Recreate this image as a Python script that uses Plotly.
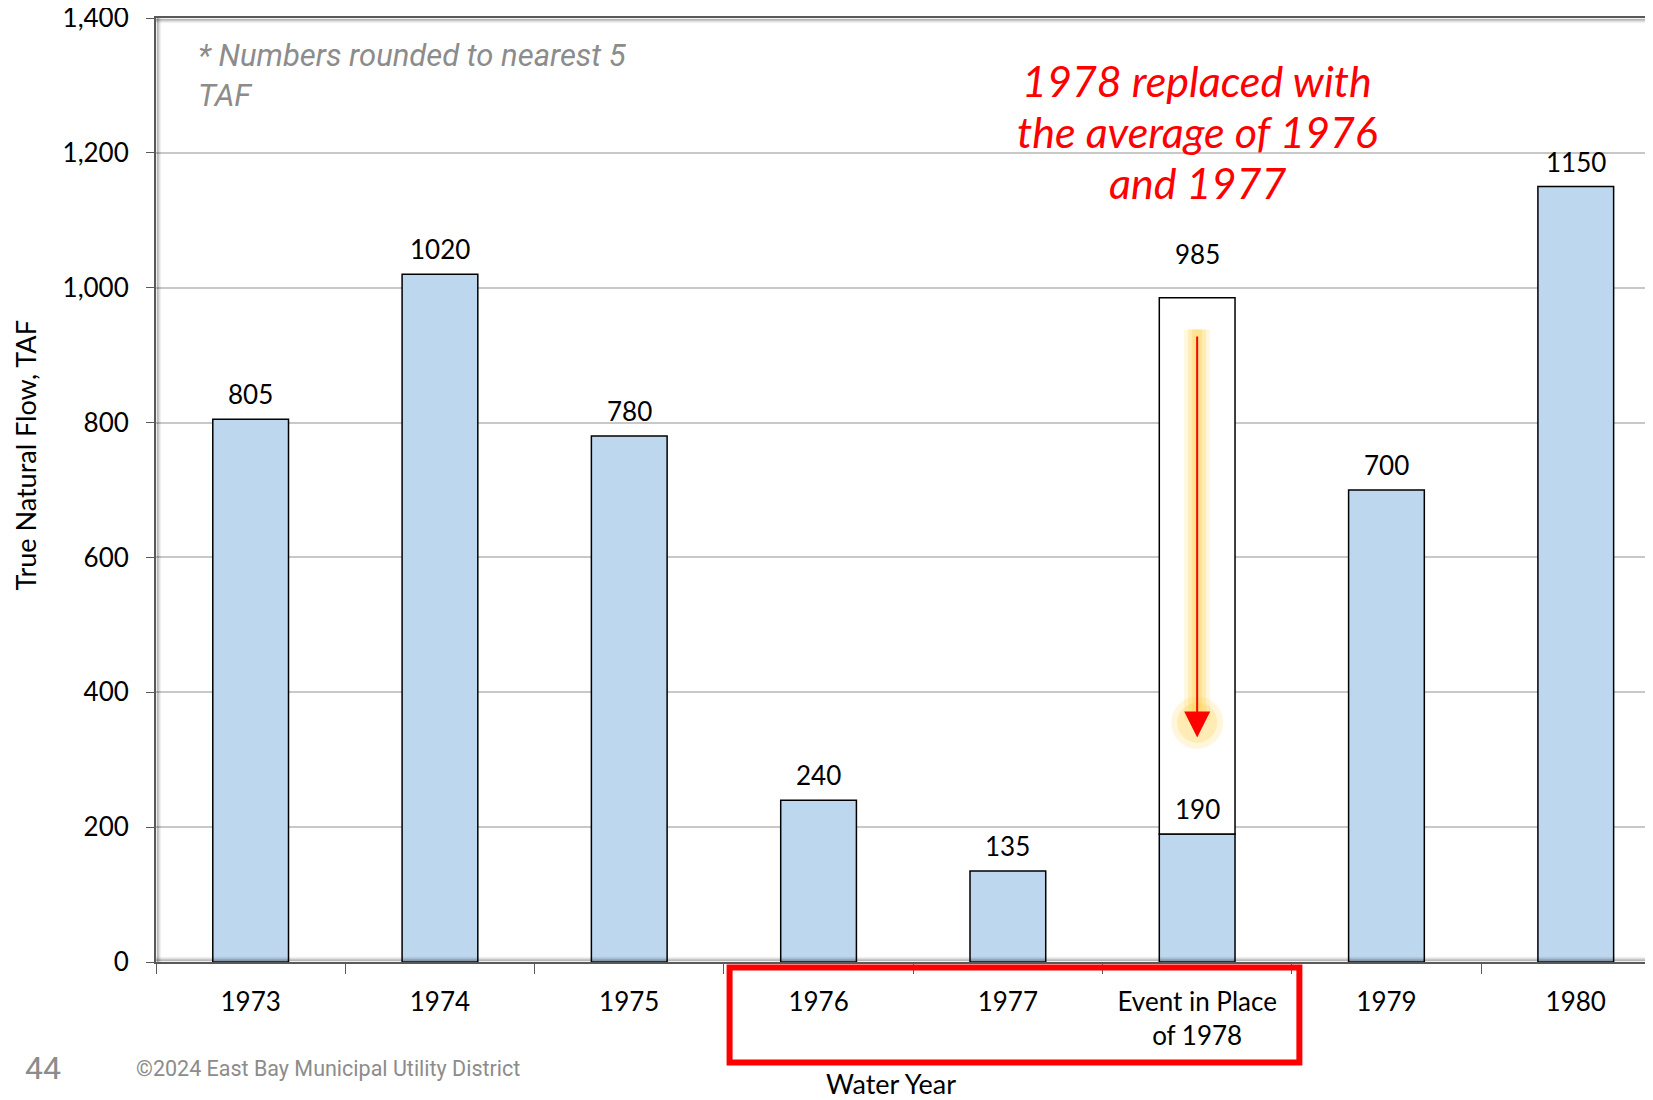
import plotly.graph_objects as go

# water years on the x axis (1978 replaced by an average event)
years = ["1973", "1974", "1975", "1976", "1977", "Event in Place<br>of 1978", "1979", "1980"]
flow_taf = [805, 1020, 780, 240, 135, 190, 700, 1150]
replaced_year = "Event in Place<br>of 1978"
original_1978 = 985
y_ticks = [0, 200, 400, 600, 800, 1000, 1200, 1400]

# arrow from the original value down toward the replacement
arrow_top = 930
arrow_tip = 333

note_lines = ["1978 replaced with", "the average of 1976", "and 1977"]

BAR_BLUE = "#bdd7ee"
FONT = "Lato, 'Open Sans', sans-serif"
GREY = "#8c8c8c"

fig = go.Figure()

fig.add_trace(go.Bar(
    x=years,
    y=flow_taf,
    width=0.4,
    marker=dict(color=BAR_BLUE, line=dict(color="black", width=1.5)),
    showlegend=False,
    hoverinfo="skip",
))

# original 1978 value drawn as an empty box above the replacement
i78 = years.index(replaced_year)
fig.add_trace(go.Bar(
    x=[replaced_year],
    y=[original_1978 - flow_taf[i78]],
    base=[flow_taf[i78]],
    width=0.4,
    marker=dict(color="white", line=dict(color="black", width=1.5)),
    showlegend=False,
    hoverinfo="skip",
))

# yellow glow behind the arrow
for w, a in [(26, 0.16), (18, 0.22), (10, 0.3)]:
    fig.add_trace(go.Scatter(
        x=[replaced_year, replaced_year], y=[arrow_top + 8, arrow_tip + 25],
        mode="lines",
        line=dict(color=f"rgba(255,205,50,{a})", width=w),
        showlegend=False, hoverinfo="skip",
    ))
for s, a in [(52, 0.18), (40, 0.25)]:
    fig.add_trace(go.Scatter(
        x=[replaced_year], y=[arrow_tip + 22],
        mode="markers",
        marker=dict(size=s, color=f"rgba(255,205,60,{a})", line=dict(width=0)),
        showlegend=False, hoverinfo="skip",
    ))

annotations = []
for i, v in enumerate(flow_taf):
    annotations.append(dict(
        x=i, y=v, xref="x", yref="y", text=str(v), showarrow=False,
        xanchor="center", yanchor="bottom", yshift=7,
        font=dict(family=FONT, size=26, color="black"),
    ))
annotations.append(dict(
    x=i78, y=original_1978, xref="x", yref="y", text=str(original_1978), showarrow=False,
    xanchor="center", yanchor="bottom", yshift=26,
    font=dict(family=FONT, size=26, color="black"),
))

# red arrow
annotations.append(dict(
    x=i78, y=arrow_tip, ax=i78, ay=arrow_top, xref="x", yref="y", axref="x", ayref="y",
    text="", showarrow=True, arrowhead=2, arrowsize=2.6, arrowwidth=2, arrowcolor="red",
    standoff=0,
))

for line, yp in zip(note_lines, [0.9333, 0.8793, 0.8253]):
    annotations.append(dict(
        x=i78, y=yp, xref="x", yref="paper", showarrow=False, text=line,
        font=dict(family=FONT, size=43, color="red", style="italic"),
        xanchor="center", yanchor="middle",
    ))

annotations.append(dict(
    x=0.0267, y=0.939, xref="paper", yref="paper", showarrow=False,
    text="* Numbers rounded to nearest 5<br>TAF", align="left",
    xanchor="left", yanchor="middle",
    font=dict(family="Roboto", size=31, color=GREY, style="italic"),
))

annotations.append(dict(
    x=-0.0872, y=0.537, xref="paper", yref="paper", showarrow=False,
    xanchor="center", yanchor="middle",
    text="True Natural Flow, TAF", textangle=-90,
    font=dict(family=FONT, size=27, color="black"),
))
annotations.append(dict(
    x=0.491, y=-0.1285, xref="paper", yref="paper", showarrow=False,
    xanchor="center", yanchor="middle",
    text="Water Year", font=dict(family=FONT, size=27, color="black"),
))
annotations.append(dict(
    x=-0.0752, y=-0.1128, xref="paper", yref="paper", showarrow=False,
    xanchor="center", yanchor="middle",
    text="44", font=dict(family="Roboto", size=32, color=GREY),
))
annotations.append(dict(
    x=-0.0147, y=-0.1128, xref="paper", yref="paper", showarrow=False,
    xanchor="left", yanchor="middle",
    text="\u00a92024 East Bay Municipal Utility District",
    font=dict(family="Roboto", size=21.5, color=GREY),
))

shapes = []
# red box around 1976-1978 labels
shapes.append(dict(
    type="rect", xref="x", yref="paper", x0=2.53, x1=5.54, y0=-0.0058, y1=-0.1064,
    line=dict(color="#ff0000", width=6), fillcolor="rgba(0,0,0,0)",
))
# soft shadow inside plot frame
px_x = 1 / 1497
px_y = 1 / 944.5
for k, a in enumerate([0.25, 0.15, 0.08, 0.04]):
    off = k + 1.5
    shapes.append(dict(type="line", xref="paper", yref="paper",
                       x0=off * px_x, x1=off * px_x, y0=0, y1=1,
                       line=dict(color=f"rgba(0,0,0,{a})", width=1.5)))
    shapes.append(dict(type="line", xref="paper", yref="paper",
                       x0=0, x1=1, y0=1 - off * px_y, y1=1 - off * px_y,
                       line=dict(color=f"rgba(0,0,0,{a})", width=1.5)))
    shapes.append(dict(type="line", xref="paper", yref="paper",
                       x0=0, x1=1, y0=off * px_y, y1=off * px_y,
                       line=dict(color=f"rgba(0,0,0,{a})", width=1.5)))

# page body has an 8px margin, so the figure is 8px smaller than the window
fig.update_layout(
    width=1645, height=1092,
    margin=dict(l=148, r=0, t=10, b=137.5),
    paper_bgcolor="white", plot_bgcolor="white",
    barmode="overlay",
    annotations=annotations,
    shapes=shapes,
    font=dict(family=FONT, size=26, color="black"),
)
fig.update_xaxes(
    type="category", range=[-0.5, 7.408], automargin=False,
    showline=True, linecolor="#595959", linewidth=2, mirror=True,
    ticks="outside", tickson="boundaries", ticklen=10, tickcolor="#595959",
    tickfont=dict(family=FONT, size=26, color="black"),
    ticklabelstandoff=16, showgrid=False,
)
fig.update_yaxes(
    range=[0, 1400], tickvals=y_ticks, tickformat=",", automargin=False,
    showline=True, linecolor="#595959", linewidth=2,
    ticks="outside", ticklen=8, tickcolor="#595959",
    tickfont=dict(family=FONT, size=26, color="black"),
    ticklabelstandoff=12, ticklabeloverflow="allow",
    showgrid=True, gridcolor="#c8c8c8", gridwidth=1.5, zeroline=False,
)

fig.write_html("out.html")
